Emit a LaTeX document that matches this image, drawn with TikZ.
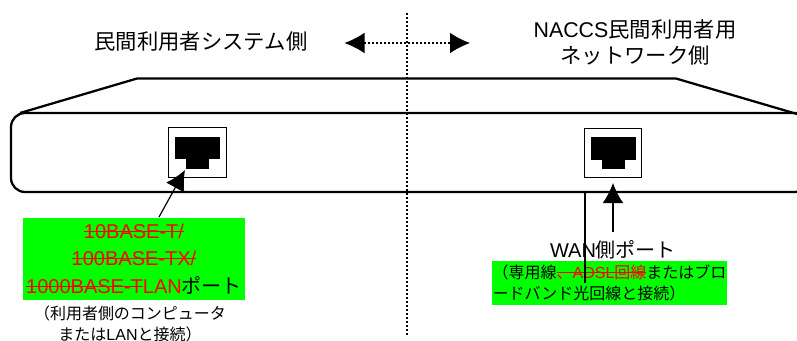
\documentclass[tikz,border=0pt]{standalone}
\usepackage{fontspec}
\usetikzlibrary{arrows.meta}
\usetikzlibrary{positioning}
\setmainfont{Liberation Sans}
\newfontfamily\jpfont{Noto Sans CJK JP}
\newcommand{\jp}[1]{{\jpfont #1}}
\newcommand{\strike}[1]{\textcolor{red}{\setbox0=\hbox{#1}\rlap{\rule[0.34em]{\wd0}{0.55pt}}\box0}}

\tikzset{
  title/.style={font=\fontsize{16}{20}\selectfont,align=center,inner sep=0pt},
  note/.style={font=\fontsize{12}{16}\selectfont,align=center,inner sep=0pt},
  greenbox/.style={fill=green,inner sep=0pt},
  port/.style={draw,line width=0.9pt,minimum width=43pt,minimum height=37pt,inner sep=0pt},
  jacktop/.style={fill=black,minimum width=34pt,minimum height=17pt,inner sep=0pt,outer sep=0pt},
  jacklow/.style={fill=black,minimum width=17pt,minimum height=7pt,inner sep=0pt,outer sep=0pt},
  bigtip/.style={-{Latex[length=15pt,width=15.5pt]},line width=0.9pt},
}

\begin{document}
\begin{tikzpicture}[x=0.75pt,y=-0.75pt,node distance=0pt]
  \useasboundingbox (0,0) rectangle (797,340);

  % casing
  \draw[line width=1.7pt,rounded corners=10.5pt] (11,113) rectangle (809,192);
  \draw[line width=1.7pt] (20,113) -- (137,78.5) -- (676,78.5) -- (797,114);

  % ports
  \node[port] (lanport) at (197.5,152.5) {};
  \node[jacktop] (lanjack) at (197.5,148) {};
  \node[jacklow,below=of lanjack] (lanlow) {};
  \node[port] (wanport) at (613,153) {};
  \node[jacktop] (wanjack) at (613.5,148.5) {};
  \node[jacklow,below=of wanjack] (wanlow) {};

  % labels
  \node[title] (userside) at (201,41) {\jp{民間利用者システム側}};
  \node[title] (netside) at (635,42.5) {NACCS\jp{民間利用者用}\\\jp{ネットワーク側}};
  \node[greenbox,minimum width=166.5pt,minimum height=61.5pt,align=center,
        font=\fontsize{15}{20.6}\selectfont] (lanlabel) at (134,259)
    {\strike{10BASE-T/}\\\strike{100BASE-TX/}\\\strike{1000BASE-T}\textcolor{red}{LAN}\jp{ポート}};
  \node[note] (lannote) at (130,324) {\jp{（利用者側のコンピュータ}\\\jp{または}LAN\jp{と接続）}};
  \node[greenbox,minimum width=176.5pt,minimum height=33pt,align=left,
        font=\fontsize{12}{16}\selectfont] (wannote) at (609.5,283)
    {\jp{（専用線}\strike{\jp{、}ADSL\jp{回線}}\jp{またはブロ}\\\jp{ードバンド光回線と接続）}};
  \node[font=\fontsize{15}{18}\selectfont,inner sep=0pt] (wanlabel) at (613,250) {WAN\jp{側ポート}};

  % boundary
  \coordinate (rulestart) at (407,13);
  \coordinate (ruleend) at (407,337);
  \coordinate (sideleft) at (344.5,43);
  \coordinate (sideright) at (470,43);
  \draw[line width=1pt,dash pattern=on 1.5pt off 1.5pt] (rulestart) -- (ruleend);
  \draw[{Latex[length=15pt,width=15.5pt]}-{Latex[length=15pt,width=15.5pt]},line width=0.8pt,dash pattern=on 1.5pt off 1.5pt] (sideleft) -- (sideright);

  % connectors
  \coordinate (lantail) at (159,217);
  \coordinate (lantip) at (185,170);
  \coordinate (wantail) at (613,232);
  \coordinate (wantip) at (613,183);
  \coordinate (droptop) at (585,192);
  \coordinate (dropend) at (585,283);
  \draw[bigtip] (lantail) -- (lantip);
  \draw[bigtip] (wantail) -- (wantip);
  \draw[line width=0.8pt] (droptop) -- (dropend);
\end{tikzpicture}
\end{document}
